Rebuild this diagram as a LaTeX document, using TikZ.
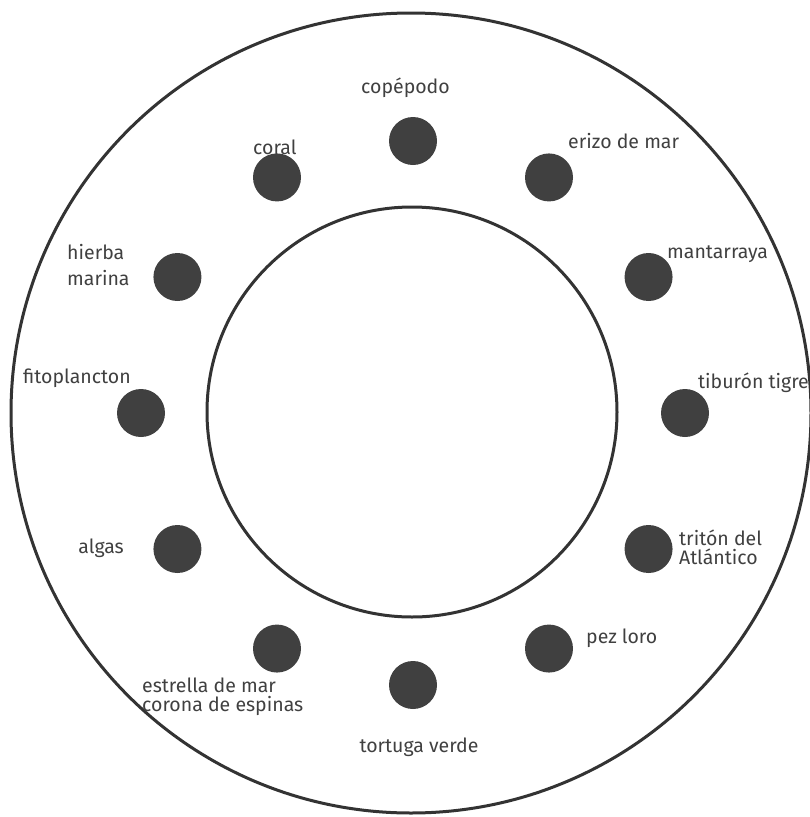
\documentclass[tikz,border=0pt]{standalone}
\usepackage{fontspec}
\setmainfont{Fira Sans}
\definecolor{ink}{HTML}{404040}
\definecolor{ring}{HTML}{333333}
\begin{document}
\begin{tikzpicture}[x=1pt,y=-1pt,
  dot/.style={circle,fill=ink,minimum size=48pt,inner sep=0pt},
  lbl/.style={text=ink,font=\fontsize{19.5}{19}\selectfont,inner sep=0pt,align=left},
  widelbl/.style={lbl,font=\fontsize{19.5}{26}\selectfont},
  ringline/.style={draw=ring,line width=3pt}]
\useasboundingbox (0,0) rectangle (810,817);
\draw[ringline] (411,413) circle (400);
\draw[ringline] (412,412) circle (205);
\foreach \n/\ang in {d1/90,d2/60,d3/30,d4/0,d5/-30,d6/-60,d7/-90,d8/-120,d9/-150,d10/180,d11/150,d12/120}{
  \node[dot] (\n) at ({413+272*cos(\ang)},{413-272*sin(\ang)}) {};
}
\node[lbl,anchor=base] (t1) at (405.5,93) {copépodo};
\node[lbl,anchor=base west] (t2) at (568,148) {erizo de mar};
\node[lbl,anchor=base west] (t3) at (667,258) {mantarraya};
\node[lbl,anchor=base west] (t4) at (698,388) {tiburón tigre};
\node[lbl,anchor=base west] (t5) at (679,564) {tritón del\\Atlántico};
\node[lbl,anchor=base west] (t6) at (586,643) {pez loro};
\node[lbl,anchor=base] (t7) at (419,752) {tortuga verde};
\node[lbl,anchor=base west] (t8) at (142,711) {estrella de mar\\corona de espinas};
\node[lbl,anchor=base east] (t9) at (124,553) {algas};
\node[lbl,anchor=base west] (t10) at (23,383) {fitoplancton};
\node[widelbl,anchor=base west] (t11) at (67,285) {hierba\\marina};
\node[lbl,anchor=base west] (t12) at (253,154) {coral};
\end{tikzpicture}
\end{document}
